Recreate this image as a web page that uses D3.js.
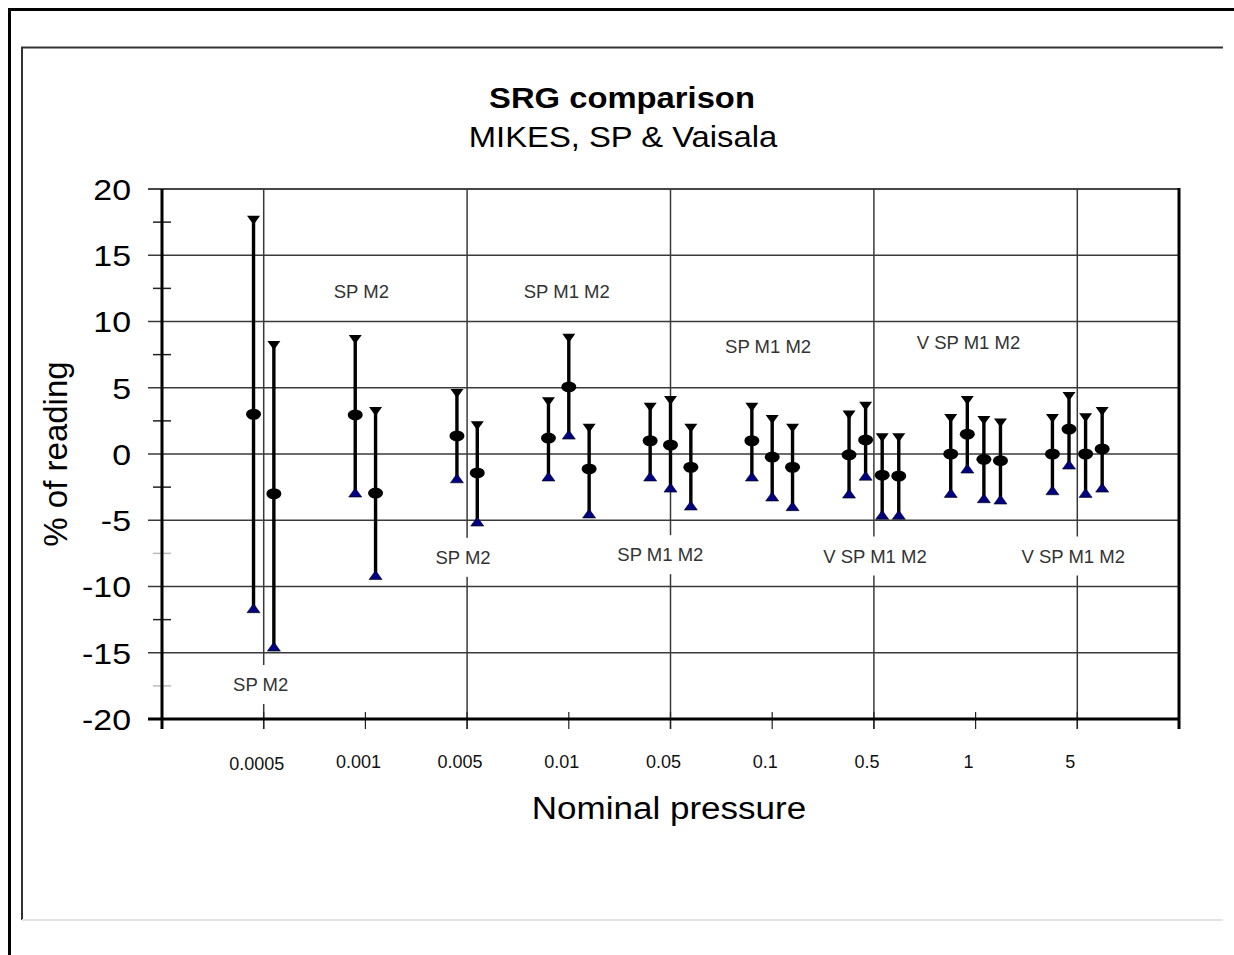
<!DOCTYPE html>
<html>
<head>
<meta charset="utf-8">
<script src="https://cdnjs.cloudflare.com/ajax/libs/d3/7.8.5/d3.min.js"></script>
<style>
  html, body { margin: 0; padding: 0; background: #fff; }
  svg { display: block; }
  text { font-family: "Liberation Sans", Arial, sans-serif; }
</style>
</head>
<body>
<svg id="chart" width="1234" height="955"></svg>
<script>
// nominal pressure categories (x axis, placed at 1..9)
var pressures = ['0.0005', '0.001', '0.005', '0.01', '0.05', '0.1', '0.5', '1', '5'];

// which labs measured at each pressure
var groups = ['SP M2', 'SP M2', 'SP M2', 'SP M1 M2', 'SP M1 M2', 'SP M1 M2',
              'V SP M1 M2', 'V SP M1 M2', 'V SP M1 M2'];

// where each group caption sits (category units, % of reading)
var label_x = [0.97, 1.96, 2.96, 3.98, 4.9, 5.96, 7.01, 7.93, 8.96];
var label_y = [-17.4, 12.3, -7.8, 12.3, -7.6, 8.1, -7.7, 8.4, -7.7];

// deviation, % of reading, one entry per lab in the group
var mid = [
  [3.0, -3.0], [2.95, -2.95], [1.36, -1.43],
  [1.2, 5.06, -1.13], [1.0, 0.68, -1.0], [1.0, -0.23, -1.0],
  [-0.06, 1.06, -1.6, -1.66], [0, 1.5, -0.4, -0.5], [0, 1.88, 0, 0.38]
];

// upper end of the uncertainty bar
var hi = [
  [17.9, 8.45], [8.9, 3.47], [4.83, 2.4],
  [4.2, 9.0, 2.2], [3.8, 4.3, 2.2], [3.8, 2.87, 2.2],
  [3.2, 3.87, 1.5, 1.5], [2.94, 4.3, 2.8, 2.6], [2.94, 4.6, 3.0, 3.47]
];

// lower end of the uncertainty bar
var lo = [
  [-11.9, -14.8], [-3.17, -9.4], [-2.1, -5.36],
  [-1.96, 1.2, -4.75], [-1.96, -2.8, -4.15], [-1.96, -3.47, -4.2],
  [-3.25, -1.9, -4.85, -4.85], [-3.2, -1.36, -3.6, -3.7], [-3.0, -1.06, -3.2, -2.8]
];

var y_major = d3.range(-20, 21, 5);
var y_minor = d3.range(-17.5, 20, 5);

// the source picture is drawn a little wide
var stretch = 1.13;

var svg = d3.select('#chart');

// frames round the picture
svg.append('path')
  .attr('d', 'M9.5,955V9.5H1234')
  .attr('fill', 'none')
  .attr('stroke', '#000')
  .attr('stroke-width', 3);

svg.append('path')
  .attr('d', 'M22,920V47.5H1223')
  .attr('fill', 'none')
  .attr('stroke', '#333')
  .attr('stroke-width', 2);

svg.append('line')
  .attr('x1', 22).attr('x2', 1223)
  .attr('y1', 920).attr('y2', 920)
  .attr('stroke', '#e4e4e4')
  .attr('stroke-width', 2);

var x = d3.scaleLinear().domain([0, 10]).range([162, 1179]);
var y = d3.scaleLinear().domain([-20, 20]).range([719, 189]);

var wide_text = (sel, tx, ty, size, str) => sel.append('text')
  .attr('transform', `translate(${ tx },${ ty }) scale(${ stretch },1)`)
  .attr('text-anchor', 'middle')
  .attr('font-size', size)
  .text(str);

// titles
wide_text(svg, 622, 108, 29, 'SRG comparison')
  .attr('font-weight', 'bold');

wide_text(svg, 623, 147, 29, 'MIKES, SP & Vaisala');

var gph = svg.append('g').attr('class', 'plot');

// horizontal grid, run out left as the major ticks
gph.selectAll('line.hgrid')
  .data(y_major.filter((d) => d > -20))
  .enter()
  .append('line')
  .attr('class', 'hgrid')
  .attr('x1', x(0) - 14)
  .attr('x2', x(10))
  .attr('y1', (d) => y(d))
  .attr('y2', (d) => y(d))
  .attr('stroke', '#3a3a3a')
  .attr('stroke-width', 1.5);

// vertical grid every second category
gph.selectAll('line.vgrid')
  .data([1, 3, 5, 7, 9])
  .enter()
  .append('line')
  .attr('class', 'vgrid')
  .attr('x1', (d) => x(d))
  .attr('x2', (d) => x(d))
  .attr('y1', y(20))
  .attr('y2', y(-20) + 10)
  .attr('stroke', '#3a3a3a')
  .attr('stroke-width', 1.5);

// minor y ticks crossing the axis
gph.selectAll('line.yminor')
  .data(y_minor)
  .enter()
  .append('line')
  .attr('class', 'yminor')
  .attr('x1', x(0) - 9)
  .attr('x2', x(0) + 9)
  .attr('y1', (d) => y(d))
  .attr('y2', (d) => y(d))
  .attr('stroke', (d) => (d === -7.5 || d === -17.5) ? '#bbb' : '#222')
  .attr('stroke-width', 1.5);

// x ticks crossing the axis
gph.selectAll('line.xtick')
  .data(d3.range(0, 11))
  .enter()
  .append('line')
  .attr('class', 'xtick')
  .attr('x1', (d) => x(d))
  .attr('x2', (d) => x(d))
  .attr('y1', y(-20) - 7)
  .attr('y2', y(-20) + 10)
  .attr('stroke', '#222')
  .attr('stroke-width', 1.2);

// y axis labels
gph.selectAll('text.ylab')
  .data(y_major)
  .enter()
  .append('text')
  .attr('class', 'ylab')
  .attr('transform', (d) => `translate(${ x(0) - 31 },${ y(d) }) scale(${ stretch },1)`)
  .attr('text-anchor', 'end')
  .attr('dy', '0.36em')
  .attr('font-size', 30)
  .text((d) => String(d));

// x category labels
gph.selectAll('text.xlab')
  .data(pressures)
  .enter()
  .append('text')
  .attr('class', 'xlab')
  .attr('x', (d, i) => x(i + 1) - 7)
  .attr('y', (d, i) => i === 0 ? 770 : 768)
  .attr('text-anchor', 'middle')
  .attr('font-size', 18)
  .attr('fill', '#111')
  .text((d) => d);

// plot frame: top and right
gph.append('line')
  .attr('x1', x(0) - 14).attr('x2', x(10))
  .attr('y1', y(20)).attr('y2', y(20))
  .attr('stroke', '#3a3a3a')
  .attr('stroke-width', 1.5);

gph.append('line')
  .attr('x1', x(10)).attr('x2', x(10))
  .attr('y1', y(20) - 1).attr('y2', y(-20) + 10)
  .attr('stroke', '#000')
  .attr('stroke-width', 3);

// axes lines
gph.append('line')
  .attr('x1', x(0)).attr('x2', x(0))
  .attr('y1', y(20)).attr('y2', y(-20) + 10)
  .attr('stroke', '#000')
  .attr('stroke-width', 3);

gph.append('line')
  .attr('x1', x(0) - 14).attr('x2', x(10) + 1)
  .attr('y1', y(-20)).attr('y2', y(-20))
  .attr('stroke', '#000')
  .attr('stroke-width', 3);

// group captions with white boxes over the grid
var cap = gph.selectAll('g.caption')
  .data(groups)
  .enter()
  .append('g')
  .attr('class', 'caption')
  .attr('transform', (d, i) => `translate(${ x(label_x[i]) },${ y(label_y[i]) })`);

cap.append('rect')
  .attr('fill', '#fff');

cap.append('text')
  .attr('text-anchor', 'middle')
  .attr('dy', '0.35em')
  .attr('font-size', 18.5)
  .attr('fill', '#333')
  .text((d) => d);

cap.each(function() {
  var g = d3.select(this);
  var b = g.select('text').node().getBBox();
  g.select('rect')
    .attr('x', b.x - 6)
    .attr('y', b.y - 9)
    .attr('width', b.width + 12)
    .attr('height', b.height + 18);
});

// flatten into error bars
var bars = [];
mid.forEach((m, i) => {
  var n = m.length;
  var step = n === 4 ? 0.163 : 0.2;
  m.forEach((v, j) => {
    bars.push({
      x: i + 1 + (j - (n - 1) / 2) * step,
      v: v,
      hi: hi[i][j],
      lo: lo[i][j]
    });
  });
});

var bar = gph.selectAll('g.bar')
  .data(bars)
  .enter()
  .append('g')
  .attr('class', 'bar');

bar.append('line')
  .attr('x1', (d) => x(d.x))
  .attr('x2', (d) => x(d.x))
  .attr('y1', (d) => y(d.hi))
  .attr('y2', (d) => y(d.lo))
  .attr('stroke', '#000')
  .attr('stroke-width', 3.4);

bar.append('path')
  .attr('d', (d) => {
    var cx = x(d.x), cy = y(d.hi);
    return `M${ cx - 6.5 },${ cy - 1 }H${ cx + 6.5 }L${ cx },${ cy + 8 }Z`;
  })
  .attr('fill', '#000');

bar.append('path')
  .attr('d', (d) => {
    var cx = x(d.x), cy = y(d.lo);
    return `M${ cx - 6.5 },${ cy + 1 }H${ cx + 6.5 }L${ cx },${ cy - 8 }Z`;
  })
  .attr('fill', '#000080')
  .attr('stroke', '#000')
  .attr('stroke-width', 0.6);

bar.append('ellipse')
  .attr('cx', (d) => x(d.x))
  .attr('cy', (d) => y(d.v))
  .attr('rx', 7.5)
  .attr('ry', 5.5)
  .attr('fill', '#000');

// axis titles
svg.append('text')
  .attr('transform', 'translate(67,454) rotate(-90)')
  .attr('text-anchor', 'middle')
  .attr('font-size', 33)
  .text('% of reading');

wide_text(svg, 669, 819, 31, 'Nominal pressure');
</script>
</body>
</html>
